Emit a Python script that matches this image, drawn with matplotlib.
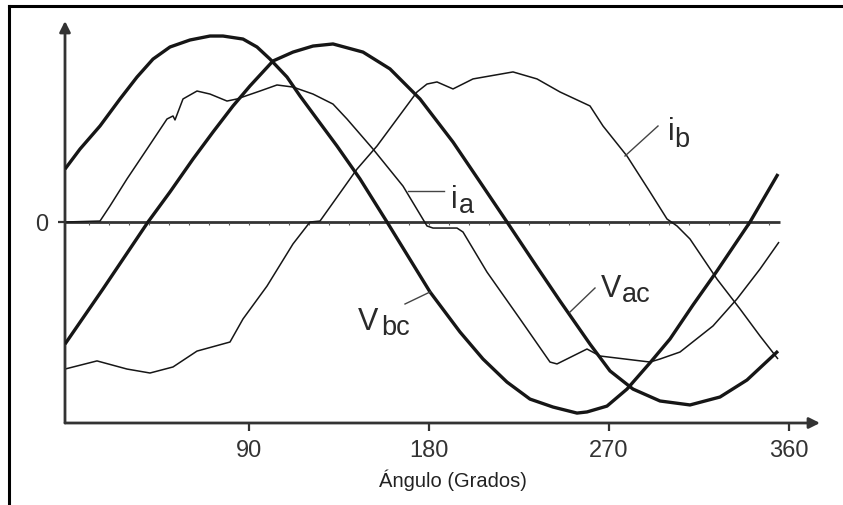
import matplotlib
matplotlib.use("Agg")
import matplotlib.pyplot as plt
from matplotlib.lines import Line2D

plt.rcParams['font.family'] = ['Liberation Sans', 'DejaVu Sans']

# ---------------- data (angle in degrees, value in p.u. of voltage peak) ----------------
vbc_x = [-2, 5.5, 15.5, 25.5, 34, 42, 50.5, 60.5, 70.5, 77, 87, 94, 100.5, 109, 115.5, 124,
         134, 145.5, 159, 180.5, 195.5, 207, 219, 230.5, 242, 254, 259, 269, 279, 290.5,
         300.5, 312, 324, 340.5, 354.5]
vbc_y = [0.280, 0.386, 0.508, 0.651, 0.767, 0.862, 0.926, 0.963, 0.984, 0.984, 0.968, 0.926,
         0.862, 0.767, 0.667, 0.545, 0.402, 0.228, 0.0, -0.370, -0.582, -0.725, -0.847,
         -0.937, -0.979, -1.011, -1.005, -0.974, -0.884, -0.745, -0.619, -0.439, -0.259,
         0.0, 0.254]

vac_x = [-2, 17, 39.5, 50.5, 62, 72, 82, 90.5, 102, 112, 122, 132, 147, 160.5, 175.5, 192,
         205.5, 219, 234, 245.5, 260.5, 270.5, 282, 295.5, 310.5, 325.5, 339, 354.5]
vac_y = [-0.646, -0.354, 0.0, 0.159, 0.333, 0.476, 0.614, 0.720, 0.852, 0.899, 0.931, 0.942,
         0.899, 0.810, 0.651, 0.423, 0.212, 0.0, -0.238, -0.418, -0.646, -0.788, -0.884,
         -0.947, -0.968, -0.926, -0.836, -0.683]

ia_x = [-2, 15.5, 20.5, 29, 39, 49, 52, 53, 57, 64, 70.5, 79, 84, 95.5, 104, 112, 122, 132,
        139, 152, 167, 179, 182, 194, 197, 209, 225.5, 240.5, 244, 259, 265.5, 290.5, 295.5,
        305.5, 322, 334, 345.5, 355]
ia_y = [0.0, 0.005, 0.085, 0.228, 0.386, 0.545, 0.561, 0.540, 0.651, 0.693, 0.677, 0.640,
        0.651, 0.693, 0.725, 0.714, 0.677, 0.624, 0.545, 0.386, 0.190, -0.021, -0.032,
        -0.032, -0.053, -0.265, -0.513, -0.741, -0.751, -0.672, -0.709, -0.741, -0.725,
        -0.688, -0.550, -0.407, -0.249, -0.106]

ib_x = [-2, 14, 29, 40.5, 52, 64, 80.5, 87, 99, 112, 120.5, 125.5, 144, 154, 174, 179, 184,
        192, 202, 222, 234, 245.5, 260.5, 267, 279, 290.5, 299, 304, 310.5, 324, 335.5,
        345.5, 354.5]
ib_y = [-0.778, -0.735, -0.778, -0.799, -0.767, -0.683, -0.635, -0.513, -0.339, -0.116,
        0.0, 0.005, 0.280, 0.402, 0.688, 0.730, 0.741, 0.704, 0.757, 0.794, 0.757, 0.688,
        0.614, 0.508, 0.349, 0.159, 0.016, -0.021, -0.090, -0.302, -0.460, -0.603, -0.725]

xticks = [90, 180, 270, 360]
xtick_labels = ['90', '180', '270', '360']
xlabel = 'Ángulo (Grados)'

# ---------------- figure ----------------
W, H = 843, 506
fig = plt.figure(figsize=(W / 100, H / 100), dpi=100)


def fx(px):
    return px / W


def fy(py):
    return 1 - py / H


ax = fig.add_axes([fx(65), fy(424), fx(820) - fx(65), fy(22) - fy(424)])
ax.set_xlim(-2, 375.5)
ax.set_ylim(-201 / 189, 201 / 189)
ax.patch.set_alpha(0)
for s in ax.spines.values():
    s.set_visible(False)

axis_col = '#333333'
line_col = '#161616'

# zero line with small ticks
ax.hlines(0, -2, 355.5, color=axis_col, lw=2.0, zorder=2)
minor = list(range(10, 355, 10))
ax.plot(minor, [0] * len(minor), ls='none', marker=3, ms=2.5, mew=0.8,
        color='#555555', zorder=2)

kw = dict(color=line_col, solid_joinstyle='round', solid_capstyle='butt')
ax.plot(ib_x, ib_y, lw=1.1, zorder=3, **kw)
ax.plot(ia_x, ia_y, lw=1.1, zorder=3, **kw)
ax.plot(vbc_x, vbc_y, lw=2.4, zorder=4, **kw)
ax.plot(vac_x, vac_y, lw=2.4, zorder=4, **kw)

# axes arrows
ax.annotate('', xy=(0, 1), xytext=(0, 0), xycoords='axes fraction',
            arrowprops=dict(arrowstyle='-|>', lw=2.0, color=axis_col,
                            mutation_scale=16, shrinkA=0, shrinkB=0))
ax.annotate('', xy=(1, 0), xytext=(0, 0), xycoords='axes fraction',
            arrowprops=dict(arrowstyle='-|>', lw=2.0, color=axis_col,
                            mutation_scale=16, shrinkA=0, shrinkB=0))

ax.set_xticks(xticks)
ax.set_xticklabels(xtick_labels)
ax.tick_params(axis='x', direction='out', length=6, width=1.6, color=axis_col,
               labelsize=17, labelcolor=axis_col, pad=5.5)
ax.set_yticks([0])
ax.set_yticklabels(['0'])
ax.tick_params(axis='y', direction='out', length=5, width=1.6, color=axis_col,
               labelsize=17, labelcolor=axis_col, pad=7)

fig.text(fx(453), fy(480), xlabel, ha='center', va='center', fontsize=14.5,
         color='#222222')


# curve labels with leader lines
def label(main, sub, mx, mb, sx, sb, lead):
    fig.text(fx(mx), fy(mb), main, ha='left', va='baseline', fontsize=22, color='#2a2a2a')
    fig.text(fx(sx), fy(sb), sub, ha='left', va='baseline', fontsize=19.5, color='#2a2a2a')
    (x0, y0), (x1, y1) = lead
    fig.add_artist(Line2D([fx(x0), fx(x1)], [fy(y0), fy(y1)], color='#444444', lw=1.0))


label('i', 'a', 451, 208, 459, 213, ((408, 192), (444, 192)))
label('i', 'b', 668, 140, 674, 147, ((625, 157), (658, 127)))
label('V', 'bc', 358, 330, 381, 335, ((405, 305), (430, 293)))
label('V', 'ac', 601, 297, 622, 302, ((570, 313), (595, 289)))

# outer frame (top and left edges)
fig.add_artist(Line2D([fx(9), 1], [fy(7), fy(7)], color='black', lw=2.2))
fig.add_artist(Line2D([fx(9), fx(9)], [fy(7), 0], color='black', lw=2.2))

fig.savefig('out.png', dpi=100)
